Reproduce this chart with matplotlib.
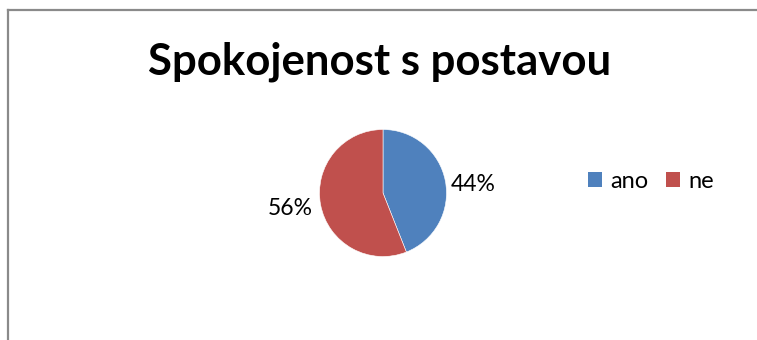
import matplotlib
matplotlib.use('Agg')
import matplotlib.pyplot as plt
from matplotlib.lines import Line2D
from matplotlib.patches import Patch

plt.rcParams['font.family'] = ['Lato', 'DejaVu Sans']

# data
title = 'Spokojenost s postavou'
categories = ['ano', 'ne']
values = [44, 56]
colors = ['#4F81BD', '#C0504D']

W, H = 757, 340
fig = plt.figure(figsize=(W / 100, H / 100), dpi=100)

# chart border (only left and top visible in the crop)
fig.add_artist(Line2D([8 / W, 8 / W], [0, 1 - 9.5 / H], color='#8a8a8a', lw=1.6))
fig.add_artist(Line2D([8 / W, 1], [1 - 9.5 / H, 1 - 9.5 / H], color='#8a8a8a', lw=1.6))

fig.text(380 / W, 1 - 75 / H, title, ha='center', va='baseline',
         fontsize=31.5, fontweight='bold')

# pie
cx, cy, r = 383, 193, 63.5
ax = fig.add_axes([(cx - r) / W, (H - cy - r) / H, 2 * r / W, 2 * r / H])
wedges, _ = ax.pie(values, colors=colors, startangle=90, counterclock=False,
                   wedgeprops=dict(edgecolor='white', linewidth=0.4))
ax.set_xlim(-1, 1)
ax.set_ylim(-1, 1)
ax.set_aspect('equal')
ax.axis('off')

label_pos = [(1.42, 0.14), (-1.46, -0.24)]
for v, (x, y) in zip(values, label_pos):
    ax.text(x, y, f'{v}%', ha='center', va='center', fontsize=16.5)

handles = [Patch(facecolor=c, edgecolor='none') for c in colors]
fig.legend(handles, categories, loc='center left', bbox_to_anchor=(588 / W, 1 - 181 / H),
           ncol=2, frameon=False, fontsize=17, handlelength=0.6, handleheight=0.6,
           handletextpad=0.35, columnspacing=0.75, borderpad=0, borderaxespad=0)

fig.savefig('out.png', dpi=100)
